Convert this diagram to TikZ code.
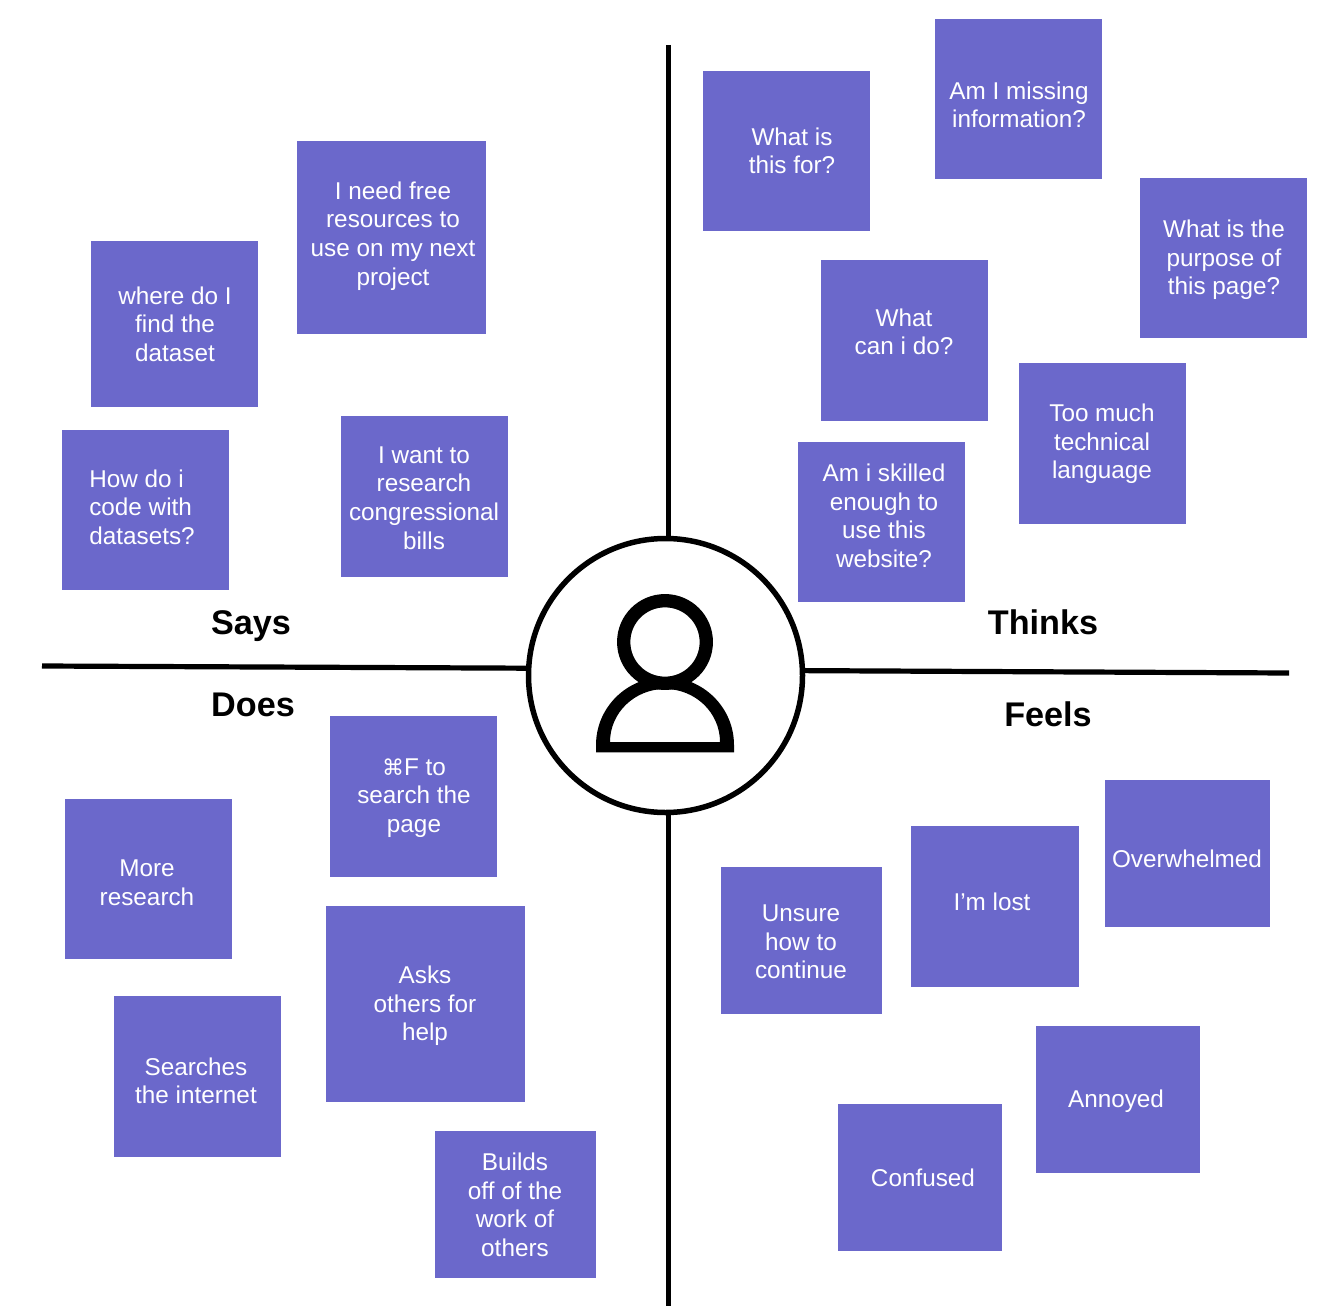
\documentclass[tikz,border=0pt]{standalone}
\usepackage{fontspec}
\setmainfont{Liberation Sans}
\newfontfamily\symfont{DejaVu Sans}
\definecolor{sticky}{HTML}{6B68CB}
\tikzset{
  note/.style={draw=none,text=white,inner sep=0pt,align=center,font=\fontsize{24.3}{28.6}\selectfont},
  head/.style={text=black,inner sep=0pt,font=\bfseries\fontsize{34.2}{40}\selectfont},
  axis/.style={draw=black,line width=5.2pt}
}
\newcommand{\notebox}[8][center]{% align name x0 y0 x1 y1 text-pos text
  \path[fill=sticky] (#3,#4) rectangle (#5,#6);
  \node[note,align=#1] (#2) at (#7) {#8};
}
\begin{document}
\begin{tikzpicture}[x=1pt,y=-1pt]
\useasboundingbox (0,0) rectangle (1344,1316);
\fill[white] (0,0) rectangle (1344,1316);
\coordinate (t) at (668.5,45);
\coordinate (b) at (668.5,1306);
\coordinate (l) at (42,666);
\coordinate (r) at (1289,673);
\node[circle,draw=black,line width=5.5pt,minimum size=274pt,inner sep=0pt,fill=white] (hub) at (665.5,675.5) {};
\draw[axis] (t) -- (t |- hub.north);
\draw[axis] (b |- hub.south) -- (b);
\draw[axis] (l) -- (hub.177);
\draw[axis] (hub.2) -- (r);
% person
\draw[black,line width=13.3pt] (665,642) circle (41.3pt);
\fill[black,even odd rule] (596,752.3) -- (596,745) arc (180:360:69 and 68) -- (734,752.3) -- cycle
  (610,742) arc (180:360:55 and 53) -- cycle;
\notebox{a1}{297}{141}{486}{334}{393,236}{I need free\\resources to\\use on my next\\project}
\notebox{a2}{91}{241}{258}{407}{175,324}{where do I\\find the\\dataset}
\notebox[left]{a3}{62}{430}{229}{590}{142,507}{How do i\\code with\\datasets?}
\notebox{a4}{341}{416}{508}{577}{424,498}{I want to\\research\\congressional\\bills}
\notebox{b1}{703}{71}{870}{231}{792,151}{What is\\this for?}
\notebox{b2}{935}{19}{1102}{179}{1019,105}{Am I missing\\information?}
\notebox{b3}{1140}{178}{1307}{338}{1224,260}{What is the\\purpose of\\this page?}
\notebox{b4}{821}{260}{988}{421}{904,332}{What\\can i do?}
\notebox{b5}{1019}{363}{1186}{524}{1102,444}{Too much\\technical\\language}
\notebox{b6}{798}{442}{965}{602}{884,516}{Am i skilled\\enough to\\use this\\website?}
\notebox{c1}{330}{716}{497}{877}{414,798}{{\symfont\fontsize{22}{28.6}\selectfont ⌘}F to\\search the\\page}
\notebox{c2}{65}{799}{232}{959}{147,883}{More\\research}
\notebox{c3}{326}{906}{525}{1102}{425,1006}{Asks\\others for\\help}
\notebox{c4}{114}{996}{281}{1157}{196,1081}{Searches\\the internet}
\notebox{c5}{435}{1131}{596}{1278}{515,1205}{Builds\\off of the\\work of\\others}
\notebox{d1}{1105}{780}{1270}{927}{1187,859}{Overwhelmed}
\notebox{d2}{911}{826}{1079}{987}{992,902}{I’m lost}
\notebox{d3}{721}{867}{882}{1014}{801,942}{Unsure\\how to\\continue}
\notebox{d4}{1036}{1026}{1200}{1173}{1116,1101}{Annoyed}
\notebox{d5}{838}{1104}{1002}{1251}{923,1178}{Confused}
\node[head] (says) at (251,626) {Says};
\node[head] (thinks) at (1043,622) {Thinks};
\node[head] (does) at (253,705) {Does};
\node[head] (feels) at (1048,714) {Feels};
\end{tikzpicture}
\end{document}
